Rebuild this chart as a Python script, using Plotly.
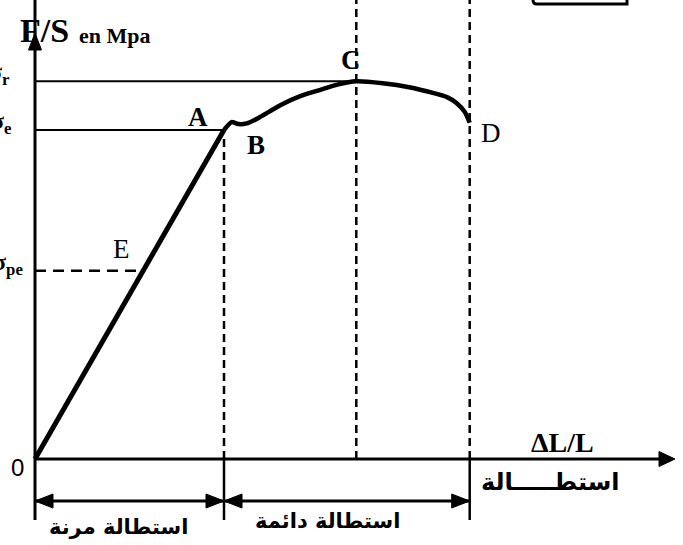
import plotly.graph_objects as go

# ---------------- data (stress-strain diagram) ----------------
strain = [0.0, 10.0, 10.4, 10.75, 11.2, 11.8, 12.4, 13.0, 14.0, 15.1, 16.0, 17.0,
          18.4, 19.8, 21.1, 21.8, 22.3, 22.75, 23.0]
stress = [0, 250, 256, 254.5, 255, 259, 264, 269, 275.5, 280.5, 284.5, 287,
          285.5, 282.5, 278, 275, 270.5, 263.5, 255.5]

sigma_e = 250      # limite élastique (A)
sigma_r = 287      # résistance à la rupture (C)
sigma_pe = 143     # limite proportionnelle (E)
strain_A = 10.0
strain_C = 17.0
strain_D = 23.0
E_slope = sigma_e / strain_A
strain_E = sigma_pe / E_slope

point_labels = ["A", "B", "C", "D", "E"]
stress_labels = ["σ<sub>r</sub>", "σ<sub>e</sub>", "σ<sub>pe</sub>"]
axis_title_y = "F/S"
axis_unit_y = "en Mpa"
axis_title_x = "ΔL/L"
arabic_axis = "استطـــــالة"
arabic_elastic = "استطالة مرنة"
arabic_plastic = "استطالة دائمة"

# ---------------- geometry (pixel scale of the axes) ----------------
W, H = 683, 545
OX, OY = 35, 459          # pixel position of origin
SX, SY = 18.9, 1.316      # pixels per unit
xr = [-OX / SX, (W - OX) / SX]
yr = [-(H - OY) / SY, OY / SY]
y_top = yr[1]
y_below = -(520 - OY) / SY
y_arrows = -(501 - OY) / SY
x_tip = (675 - OX) / SX
y_tip = (OY - 33) / SY

BLACK = "#000000"
fig = go.Figure()

# elastic part (straight) and plastic part (smooth)
fig.add_trace(go.Scatter(x=strain[:2], y=stress[:2], mode="lines",
                         line=dict(color=BLACK, width=5), hoverinfo="skip"))
fig.add_trace(go.Scatter(x=strain[1:], y=stress[1:], mode="lines",
                         line=dict(color=BLACK, width=4.5, shape="spline", smoothing=0.6),
                         hoverinfo="skip"))

shapes = []


def line(x0, y0, x1, y1, width=2.5, dash=None):
    d = dict(type="line", xref="x", yref="y", x0=x0, y0=y0, x1=x1, y1=y1,
             line=dict(color=BLACK, width=width))
    if dash:
        d["line"]["dash"] = dash
    shapes.append(d)


def head(xt, yt, direction, L, Wd):
    if direction == "right":
        bx = xt - L / SX
        pts = [(xt, yt), (bx, yt + Wd / 2 / SY), (bx, yt - Wd / 2 / SY)]
    elif direction == "left":
        bx = xt + L / SX
        pts = [(xt, yt), (bx, yt + Wd / 2 / SY), (bx, yt - Wd / 2 / SY)]
    else:  # up
        by = yt - L / SY
        pts = [(xt, yt), (xt - Wd / 2 / SX, by), (xt + Wd / 2 / SX, by)]
    path = "M{},{} L{},{} L{},{} Z".format(*[c for p in pts for c in p])
    shapes.append(dict(type="path", xref="x", yref="y", path=path,
                       fillcolor=BLACK, line=dict(color=BLACK, width=1)))


# axes
line(0, y_below, 0, y_top, width=3)
line(0, 0, x_tip - 0.3, 0, width=3)
head(x_tip, 0, "right", 16, 15)
head(0, y_tip, "up", 17, 13)

# horizontal reference levels
line(0, sigma_r, strain_C, sigma_r, width=2)
line(0, sigma_e, strain_A, sigma_e, width=2)
line(0, sigma_pe, strain_E, sigma_pe, width=2.5, dash="11px,7px")

# vertical dashed lines
line(strain_A, 0, strain_A, sigma_e - 3, width=2.5, dash="8px,5px")
line(strain_C, 0, strain_C, y_top, width=2.5, dash="8px,5px")
line(strain_D, 0, strain_D, y_top, width=2.5, dash="8px,5px")

# solid ticks below axis
line(strain_A, 0, strain_A, y_below, width=2.5)
line(strain_D, 0, strain_D, y_below, width=2.5)

# double arrows
line(0, y_arrows, strain_A, y_arrows, width=3)
head(0, y_arrows, "left", 18, 14)
head(strain_A, y_arrows, "right", 18, 14)
line(strain_A, y_arrows, strain_D, y_arrows, width=3)
head(strain_A, y_arrows, "left", 18, 14)
head(strain_D, y_arrows, "right", 18, 14)

# partial box at top right
shapes.append(dict(type="path", xref="paper", yref="paper",
                   path="M{},{} L{},{} Q{},{} {},{} L{},{} L{},{}".format(
                       533 / W, 1.02, 533 / W, 1 - 0 / H, 533 / W, 1 - 4 / H,
                       537 / W, 1 - 4 / H, 627 / W, 1 - 4 / H, 627 / W, 1.02),
                   line=dict(color=BLACK, width=3)))

fig.update_layout(shapes=shapes)

serif = "Liberation Serif, Times New Roman, serif"
sans = "Liberation Sans, Arial, sans-serif"
arab = "DejaVu Sans, sans-serif"


def px_x(p):
    return (p - OX) / SX


def px_y(p):
    return (OY - p) / SY


ann = []


def text(t, x, y, size, family=serif, xanchor="center", bold=False):
    if bold:
        t = "<b>" + t + "</b>"
    ann.append(dict(text=t, x=x, y=y, xref="x", yref="y", showarrow=False,
                    xanchor=xanchor, yanchor="middle",
                    font=dict(family=family, size=size, color=BLACK)))


# point labels
text(point_labels[0], strain_A, sigma_e, 27, bold=True)
ann[-1].update(xshift=-26, yshift=13)
text(point_labels[1], strain_A, sigma_e, 27, bold=True)
ann[-1].update(xshift=32, yshift=-15)
text(point_labels[2], strain_C, sigma_r, 27, bold=True)
ann[-1].update(xshift=-5, yshift=21)
text(point_labels[3], strain_D, stress[-1], 27)
ann[-1].update(xshift=21, yshift=-10)
text(point_labels[4], strain_E, sigma_pe, 27)
ann[-1].update(xshift=-22, yshift=22)

# stress level labels (partly cut at the left edge)
text(stress_labels[0], px_x(12), sigma_r, 24, xanchor="right", bold=True)
ann[-1].update(yshift=7)
text(stress_labels[1], px_x(14), sigma_e, 24, xanchor="right", bold=True)
ann[-1].update(yshift=7)
text(stress_labels[2], px_x(25), sigma_pe, 24, xanchor="right", bold=True)
ann[-1].update(yshift=7)

# axis titles
text(axis_title_y, px_x(44), px_y(30), 34, bold=True)
text(axis_unit_y, px_x(115), px_y(35), 22, bold=True)
text(axis_title_x, px_x(562), px_y(442), 28, bold=True)
text("0", px_x(17), px_y(467), 24, family=sans)

# Arabic texts
text(arabic_axis, px_x(550), px_y(482), 24, family=arab, bold=True)
text(arabic_elastic, px_x(118), px_y(527), 21, family=arab, bold=True)
text(arabic_plastic, px_x(327), px_y(521), 21, family=arab, bold=True)

fig.update_layout(
    annotations=ann,
    width=W, height=H, autosize=False,
    margin=dict(l=0, r=0, t=0, b=0, pad=0),
    paper_bgcolor="white", plot_bgcolor="white",
    showlegend=False,
    xaxis=dict(range=xr, visible=False, fixedrange=True),
    yaxis=dict(range=yr, visible=False, fixedrange=True),
)

fig.write_html("out.html",
               config={"displayModeBar": False, "staticPlot": True},
               post_script="document.body.style.margin='0';document.body.style.overflow='hidden';")
